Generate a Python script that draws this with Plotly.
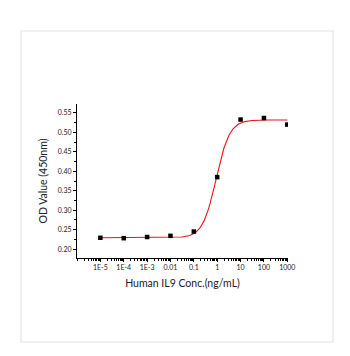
import numpy as np
import plotly.graph_objects as go

# Data
conc = [1e-5, 1e-4, 1e-3, 1e-2, 1e-1, 1, 10, 100, 1000]
od = [0.229, 0.228, 0.231, 0.234, 0.245, 0.385, 0.533, 0.537, 0.520]
tick_vals = [1e-5, 1e-4, 1e-3, 1e-2, 1e-1, 1, 10, 100, 1000]
tick_text = ["1E-5", "1E-4", "1E-3", "0.01", "0.1", "1", "10", "100", "1000"]

# 4PL fit parameters (estimated from the drawn fit curve)
fit_bottom = 0.229
fit_top = 0.532
fit_ec50 = 0.9
fit_hill = 1.5

xfit = np.logspace(-5, 3, 300)
yfit = fit_bottom + (fit_top - fit_bottom) / (1 + (fit_ec50 / xfit) ** fit_hill)

W, H = 350, 356
L, R, T, B = 77, 62, 104, 98
pw, ph = W - L - R, H - T - B

def px2paper(x, y):
    return (x - L) / pw, (H - B - y) / ph

fig = go.Figure()
fig.add_trace(go.Scatter(x=xfit, y=yfit, mode="lines",
                         line=dict(color="#e8141b", width=1.1), hoverinfo="skip"))
fig.add_trace(go.Scatter(x=conc, y=od, mode="markers",
                         marker=dict(symbol="square", size=4.5, color="black")))

x0, y0 = px2paper(21, 31)
x1, y1 = px2paper(333, 342)
fig.add_shape(type="rect", xref="paper", yref="paper", x0=x0, y0=y1, x1=x1, y1=y0,
              line=dict(color="#e4e4e4", width=1.2), fillcolor="rgba(0,0,0,0)", layer="below")

font = "Lato, 'Open Sans', sans-serif"
fig.update_layout(
    width=W, height=H, margin=dict(l=L, r=R, t=T, b=B),
    paper_bgcolor="white", plot_bgcolor="white", showlegend=False,
    font=dict(family=font, color="#222"),
    xaxis=dict(type="log", range=[-6, 3.03], tickvals=tick_vals, ticktext=tick_text,
               showline=True, linecolor="black", linewidth=1, ticks="outside",
               ticklen=3, tickcolor="black", showgrid=False, zeroline=False,
               tickfont=dict(size=7, family=font),
               minor=dict(ticks="outside", ticklen=2, tickcolor="black", dtick="D1", showgrid=False),
               title=dict(text="Human IL9 Conc.(ng/mL)", font=dict(size=10.5, family=font), standoff=9)),
    yaxis=dict(range=[0.177, 0.573], tickvals=[0.20, 0.25, 0.30, 0.35, 0.40, 0.45, 0.50, 0.55],
               tickformat=".2f",
               showline=True, linecolor="black", linewidth=1, ticks="outside",
               ticklen=3, tickcolor="black", showgrid=False, zeroline=False,
               tickfont=dict(size=7, family=font),
               minor=dict(ticks="outside", ticklen=2, tickcolor="black", dtick=0.025, showgrid=False),
               title=dict(text="OD Value (450nm)", font=dict(size=10.5, family=font), standoff=8)),
)
fig.write_html("out.html")
